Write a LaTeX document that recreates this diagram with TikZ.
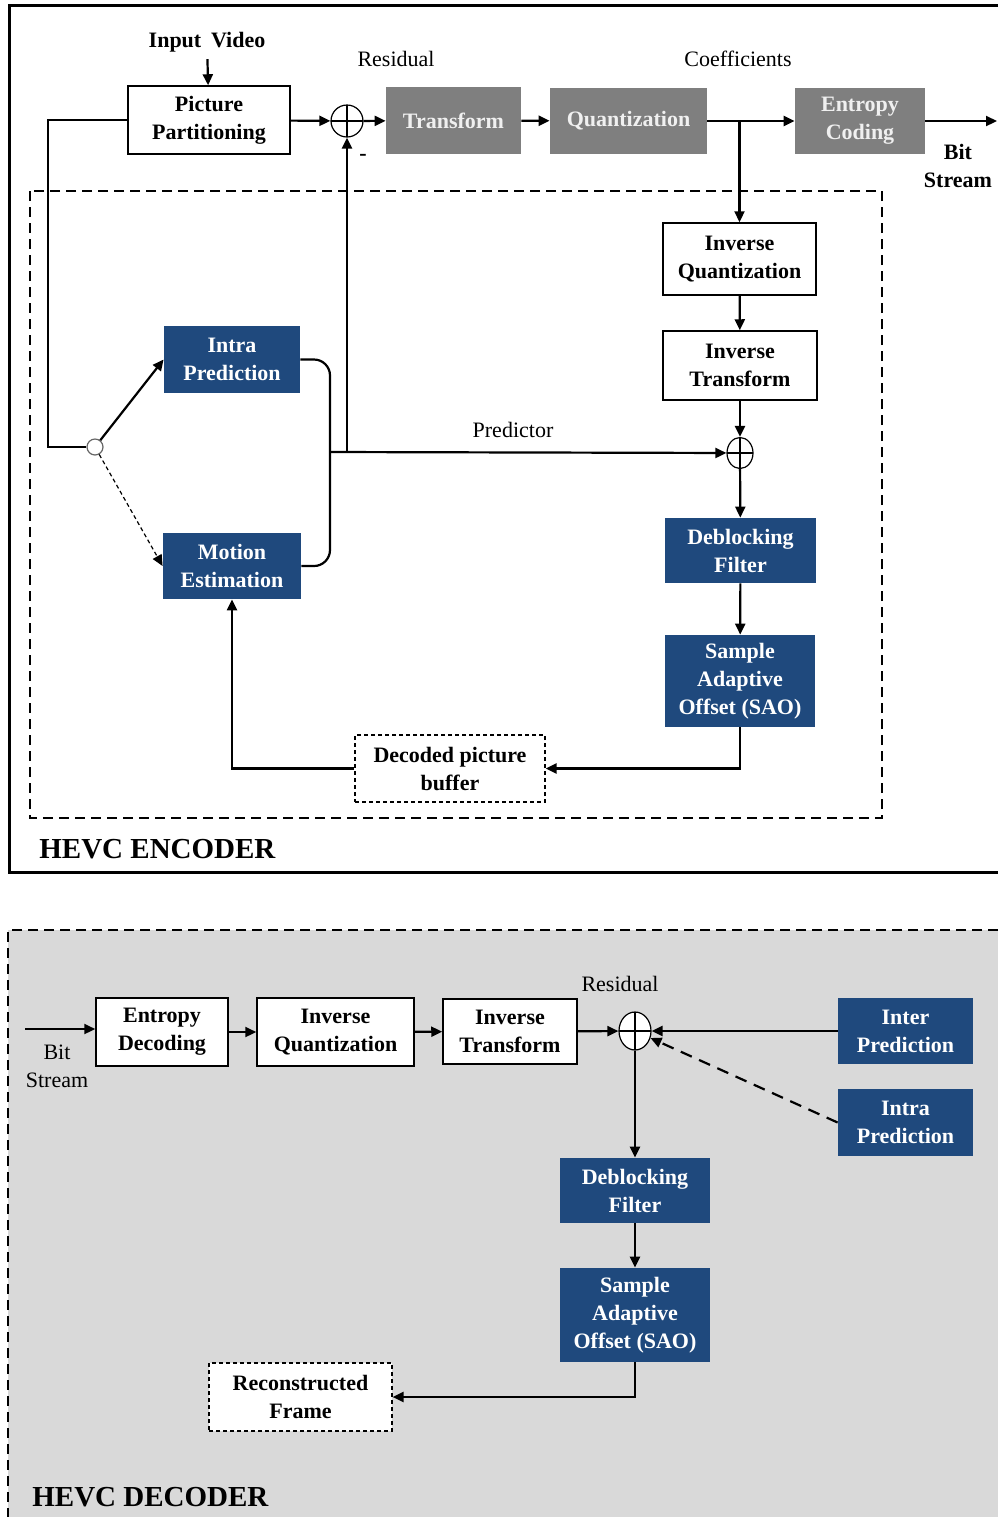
\documentclass[tikz,border=0pt]{standalone}
\usepackage{fontspec}
\setmainfont{Liberation Serif}
\usetikzlibrary{arrows.meta, positioning, calc, shapes.geometric}
\definecolor{hevcblue}{RGB}{31, 73, 125}
\definecolor{hevcgray}{RGB}{127, 127, 127}
\definecolor{hevcgraytext}{RGB}{240, 240, 240}
\definecolor{hevcshade}{RGB}{217, 217, 217}
\tikzset{
  % Block size given in reference pixels (1px = 0.5pt).
  sz/.style 2 args={minimum width={#1*0.5pt}, minimum height={#2*0.5pt}},
  blk/.style={
    rectangle, inner sep=0pt,
    align=center,
    font=\fontsize{11}{14}\selectfont\bfseries,
  },
  blk-white/.style ={blk, draw=black, line width=0.75pt, fill=white},
  blk-blue/.style  ={blk, fill=hevcblue, text=white},
  blk-gray/.style  ={blk, fill=hevcgray, text=hevcgraytext},
  blk-buffer/.style={blk, draw=black, line width=0.6pt,
    dash pattern=on 2pt off 1.5pt, fill=white},
  % Summing junction.
  sum/.style={
    ellipse, draw=black, line width=0.6pt, fill=white, inner sep=0pt,
    path picture={
      \draw[line width=0.6pt]
        (path picture bounding box.north) -- (path picture bounding box.south)
        (path picture bounding box.west) -- (path picture bounding box.east);
    },
  },
  switch/.style={circle, draw=black!60, line width=0.6pt, fill=white,
    inner sep=0pt, minimum size=8pt},
  % Text.
  lbl/.style={font=\fontsize{11}{14}\selectfont, align=center},
  lbl-bold/.style={font=\fontsize{11}{14}\selectfont\bfseries, align=center},
  heading/.style={font=\fontsize{14.5}{17}\selectfont\bfseries, inner sep=0pt},
  % Connectors.
  wire/.style={line width=1.1pt, draw=black},
  arr/.style={wire, -{Triangle[length=5.5pt, width=5pt]}},
  frame-dash/.style={line width=1.2pt, dash pattern=on 5pt off 3pt},
}

\begin{document}
\begin{tikzpicture}[x=0.5pt, y=-0.5pt]
  \useasboundingbox (0,0) rectangle (998,1517);

  % ---------------- Encoder ----------------
  \draw[line width=1.5pt] (998,5) -- (9,5) -- (9,872) -- (998,872);
  \draw[frame-dash] (30,191) rectangle (882,818);
  \node[heading, anchor=west] (enclbl) at (39,849) {HEVC ENCODER};

  % Forward path.
  \node[lbl-bold] (invid) at (207,42) {Input\;\,Video};
  \node[blk-white, sz={162}{68}] (pp) at (209,120) {Picture\\Partitioning};
  \node[sum, sz={32}{32}] (sum1) at (347,121) {};
  \node[blk-gray, sz={135}{67}] (tr) at (453.5,120.5) {Transform};
  \node[blk-gray, sz={157}{66}] (qu) at (628.5,121) {Quantization};
  \node[blk-gray, sz={130}{66}] (ec) at (860,121) {Entropy\\Coding};
  \coordinate (bsout) at (997,121);
  \node[lbl-bold] (bslbl) at (958,166) {Bit\\Stream};
  \node[lbl] (reslbl) at (396,59) {Residual};
  \node[lbl] (coeflbl) at (738,59) {Coefficients};
  \node[lbl-bold] (minus) at (363,157) {-};

  % Reconstruction loop.
  \node[blk-white, sz={153}{72}] (iq) at (739.5,259) {Inverse\\Quantization};
  \node[blk-white, sz={154}{69}] (it) at (740,365.5) {Inverse\\Transform};
  \node[sum, sz={26}{31}] (sum2) at (740,453) {};
  \node[blk-blue, sz={151}{65}] (df) at (740.5,550.5) {Deblocking\\Filter};
  \node[blk-blue, sz={150}{92}] (sao) at (740,681) {Sample\\Adaptive\\Offset (SAO)};
  \node[blk-buffer, sz={190}{67}] (dpb) at (450,768.5) {Decoded picture\\buffer};

  % Prediction.
  \node[blk-blue, sz={136}{67}] (ip) at (232,359.5) {Intra\\Prediction};
  \node[blk-blue, sz={138}{66}] (me) at (232,566) {Motion\\Estimation};
  \node[switch] (sw) at (95,447) {};
  \coordinate (lft) at (48,447);
  \coordinate (brk) at (330,452);
  \node[lbl] (predlbl) at (513,430) {Predictor};

  \draw[arr] (invid) -- (pp);
  \draw[arr] (pp) -- (sum1);
  \draw[arr] (sum1) -- (tr);
  \draw[arr] (tr) -- (qu);
  \draw[arr] (qu) -- (ec);
  \draw[arr] (ec.east) -- (bsout);
  \draw[arr] (qu.east -| iq.north) -- (iq);
  \draw[arr] (iq) -- (it);
  \draw[arr] (it) -- (sum2);
  \draw[arr] (sum2) -- (df);
  \draw[arr] (df) -- (sao);
  \draw[arr] (sao.south) |- (dpb.east);
  \draw[arr] (dpb.west) -| (me.south);
  \draw[wire] (pp.west) -| (lft) -- (sw);
  \draw[arr] (sw) -- (ip.west);
  \draw[arr, line width=0.6pt, dash pattern=on 2pt off 1.5pt] (sw) -- (me.west);
  \draw[wire, rounded corners=8pt] (ip.east) -| (brk) |- (me.east);
  \draw[arr] (brk) -- (sum2);
  \draw[arr] (sum1 |- brk) -- (sum1);

  % ---------------- Decoder ----------------
  \fill[hevcshade] (8,930) rectangle (998,1517);
  \draw[frame-dash] (998,930) -- (8,930) -- (8,1517);
  \node[heading, anchor=west] (declbl) at (32,1497) {HEVC DECODER};

  \coordinate (bsin) at (25,1029);
  \node[lbl] (dbslbl) at (57,1066) {Bit\\Stream};
  \node[blk-white, sz={132}{68}] (ed) at (162,1032) {Entropy\\Decoding};
  \node[blk-white, sz={157}{68}] (diq) at (335.5,1032) {Inverse\\Quantization};
  \node[blk-white, sz={134}{65}] (dit) at (510,1031.5) {Inverse\\Transform};
  \node[sum, sz={32}{38}] (dsum) at (635,1031) {};
  \node[lbl] (dreslbl) at (620,984) {Residual};
  \node[blk-blue, sz={135}{66}] (inter) at (905.5,1031) {Inter\\Prediction};
  \node[blk-blue, sz={135}{67}] (intra) at (905.5,1122.5) {Intra\\Prediction};
  \node[blk-blue, sz={150}{65}] (ddf) at (635,1190.5) {Deblocking\\Filter};
  \node[blk-blue, sz={150}{94}] (dsao) at (635,1315) {Sample\\Adaptive\\Offset (SAO)};
  \node[blk-buffer, sz={183}{68}] (rf) at (300.5,1397) {Reconstructed\\Frame};

  \draw[arr] (bsin) -- (bsin -| ed.west);
  \draw[arr] (ed) -- (diq);
  \draw[arr] (diq) -- (dit);
  \draw[arr] (dit) -- (dsum);
  \draw[arr] (inter) -- (dsum);
  \draw[arr, dash pattern=on 6pt off 4pt] (intra.west) -- (dsum);
  \draw[arr] (dsum) -- (ddf);
  \draw[arr] (ddf) -- (dsao);
  \draw[arr] (dsao.south) |- (rf.east);

\end{tikzpicture}
\end{document}
